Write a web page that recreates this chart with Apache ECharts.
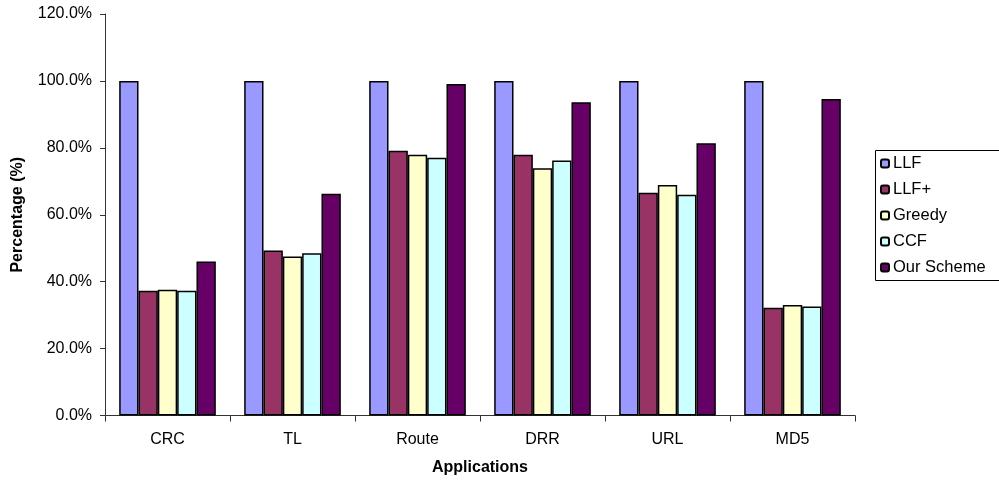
<!DOCTYPE html>
<html>
<head>
<meta charset="utf-8">
<script src="https://cdn.jsdelivr.net/npm/echarts@6/dist/echarts.min.js"></script>
<style>
  html, body { margin: 0; padding: 0; background: #fff; overflow: hidden; }
  #chart { width: 999px; height: 483px; }
</style>
</head>
<body>
<div id="chart"></div>
<script>
// Applications on the category axis
const categories = ['CRC', 'TL', 'Route', 'DRR', 'URL', 'MD5'];

// Percentages per scheme (%)
const llf       = [100, 100, 100, 100, 100, 100];
const llfPlus   = [37.3, 49.3, 79.1, 77.9, 66.6, 32.2];
const greedy    = [37.6, 47.5, 77.9, 73.9, 68.9, 33.0];
const ccf       = [37.3, 48.5, 77.0, 76.2, 66.0, 32.6];
const ourScheme = [46.0, 66.3, 99.1, 93.6, 81.4, 94.6];

const seriesNames = ['LLF', 'LLF+', 'Greedy', 'CCF', 'Our Scheme'];
const seriesData = [llf, llfPlus, greedy, ccf, ourScheme];
const colors = ['#9999FF', '#993366', '#FFFFCC', '#CCFFFF', '#660066'];

const font = 'Arial, "Liberation Sans", sans-serif';

const chart = echarts.init(document.getElementById('chart'), null, { renderer: 'canvas' });

chart.setOption({
  animation: false,
  backgroundColor: '#ffffff',
  grid: { left: 105, right: 144, top: 14, bottom: 67.5 },
  // legend frame, running off the right edge of the canvas
  graphic: [{
    type: 'rect',
    shape: { x: 875.5, y: 150.5, width: 200, height: 130 },
    style: { fill: 'none', stroke: '#000', lineWidth: 1 },
    silent: true
  }],
  legend: {
    orient: 'vertical',
    left: 875,
    top: 149,
    data: seriesNames,
    itemWidth: 8,
    itemHeight: 8,
    itemGap: 9,
    padding: [6, 5, 5, 5],
    textStyle: { fontFamily: font, fontSize: 16.5, lineHeight: 16, color: '#000', padding: [0, 0, 0, -1] }
  },
  xAxis: {
    type: 'category',
    data: categories,
    name: 'Applications',
    nameLocation: 'middle',
    nameGap: 44,
    nameTextStyle: { fontFamily: font, fontSize: 16, fontWeight: 'bold', color: '#000' },
    axisLine: { lineStyle: { color: '#333', width: 1 } },
    axisTick: { show: true, length: 6, lineStyle: { color: '#333' } },
    axisLabel: { fontFamily: font, fontSize: 16, color: '#000', margin: 16 },
    splitLine: { show: false }
  },
  yAxis: {
    type: 'value',
    min: 0,
    max: 120,
    interval: 20,
    name: 'Percentage (%)',
    nameLocation: 'middle',
    nameGap: 79,
    nameRotate: 90,
    nameTextStyle: { fontFamily: font, fontSize: 16, fontWeight: 'bold', color: '#000' },
    axisLine: { show: true, lineStyle: { color: '#333', width: 1 } },
    axisTick: { show: true, length: 5, lineStyle: { color: '#333' } },
    axisLabel: {
      fontFamily: font, fontSize: 16, color: '#000', margin: 13,
      formatter: v => v.toFixed(1) + '%'
    },
    splitLine: { show: false }
  },
  series: seriesNames.map((name, i) => ({
    name,
    type: 'bar',
    data: seriesData[i],
    barGap: '0%',
    barCategoryGap: '22.7%',
    itemStyle: { color: colors[i], borderColor: '#000', borderWidth: 1.5 }
  }))
});
</script>
</body>
</html>
